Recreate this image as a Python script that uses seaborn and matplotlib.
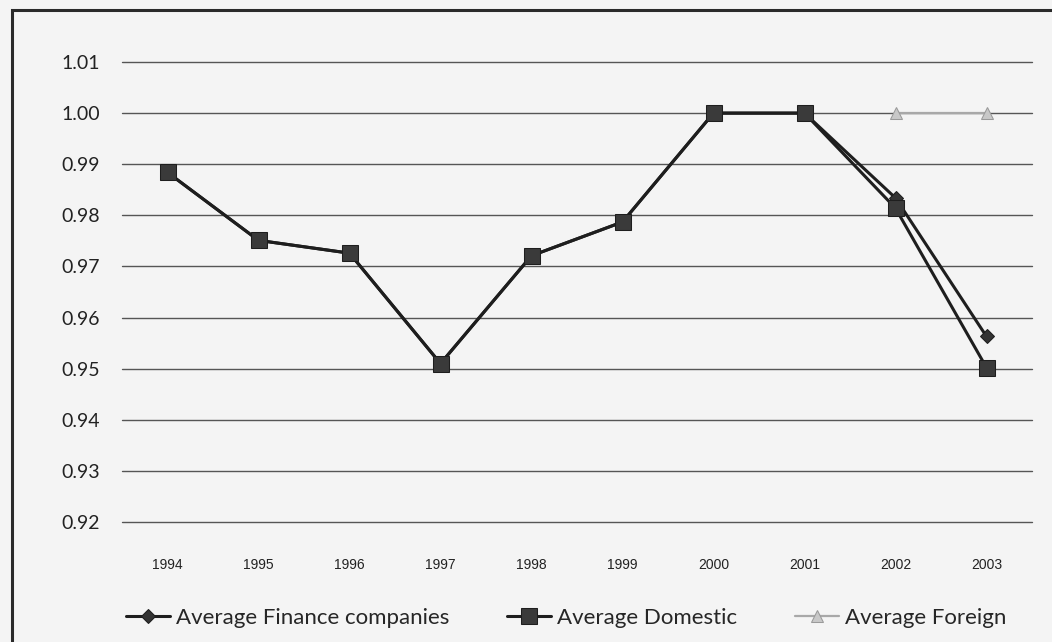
import matplotlib
matplotlib.use("Agg")
import matplotlib.pyplot as plt
from matplotlib.patches import Rectangle
import seaborn as sns
import pandas as pd
import numpy as np

years = ["1994", "1995", "1996", "1997", "1998", "1999", "2000", "2001", "2002", "2003"]
finance = [0.9884, 0.9751, 0.9726, 0.9510, 0.9721, 0.9787, 1.0000, 1.0000, 0.9834, 0.9563]
domestic = [0.9884, 0.9751, 0.9726, 0.9510, 0.9721, 0.9787, 1.0000, 1.0000, 0.9814, 0.9502]
foreign = [np.nan, np.nan, np.nan, np.nan, np.nan, np.nan, np.nan, np.nan, 1.0000, 1.0000]
series_names = ["Average Finance companies", "Average Domestic", "Average Foreign"]
y_ticks = [0.92, 0.93, 0.94, 0.95, 0.96, 0.97, 0.98, 0.99, 1.00, 1.01]

sns.set_theme(style="white")
plt.rcParams["font.family"] = ["Lato", "DejaVu Sans"]

fig = plt.figure(figsize=(10.52, 6.42), dpi=100, facecolor="#f4f4f4")
ax = fig.add_axes([122 / 1052, 1 - 522 / 642, 910 / 1052, 460 / 642])
ax.set_facecolor("none")

# outer chart frame
fig.patches.append(Rectangle((12 / 1052, -0.05), 1.2, 1 - 10 / 642 + 0.05,
                             transform=fig.transFigure, fill=False,
                             edgecolor="#2a2a2a", linewidth=2.2, zorder=0))

x = np.arange(len(years))
df = pd.DataFrame({"x": x, series_names[0]: finance,
                   series_names[1]: domestic, series_names[2]: foreign})

sns.lineplot(data=df, x="x", y=series_names[2], ax=ax, color="#a8a8a8",
             linewidth=1.6, marker="^", markersize=8, markerfacecolor="#c8c8c8",
             markeredgecolor="#9a9a9a", label=series_names[2], zorder=3)
sns.lineplot(data=df, x="x", y=series_names[0], ax=ax, color="#1e1e1e",
             linewidth=2.2, marker="D", markersize=7, markerfacecolor="#333333",
             markeredgecolor="#1e1e1e", label=series_names[0], zorder=4)
sns.lineplot(data=df, x="x", y=series_names[1], ax=ax, color="#1e1e1e",
             linewidth=2.2, marker="s", markersize=12, markerfacecolor="#3a3a3a",
             markeredgecolor="#1e1e1e", label=series_names[1], zorder=5)

ax.set_xlim(-0.5, len(years) - 0.5)
ax.set_ylim(0.92, 1.01)
ax.set_yticks(y_ticks)
ax.set_yticklabels([f"{v:.2f}" for v in y_ticks], fontsize=14, color="#222222")
ax.set_xticks(x)
ax.set_xticklabels(years, fontsize=10, color="#222222",
                   family=["Liberation Sans", "DejaVu Sans"])
ax.tick_params(axis="y", length=0, pad=16)
ax.tick_params(axis="x", length=0, pad=26)
ax.yaxis.grid(True, color="#555555", linewidth=1.0)
for gl in ax.get_ygridlines():
    gl.set_clip_on(False)
ax.xaxis.grid(False)
for s in ax.spines.values():
    s.set_visible(False)
ax.set_xlabel("")
ax.set_ylabel("")

handles, labels = ax.get_legend_handles_labels()
order = [labels.index(n) for n in series_names]
ax.legend([handles[i] for i in order], [labels[i] for i in order],
          loc="center", bbox_to_anchor=(0.488, -0.208), ncol=3, frameon=False,
          fontsize=16, handlelength=2.0, handletextpad=0.25, columnspacing=2.6)

fig.savefig("out.png", dpi=100, facecolor=fig.get_facecolor())
